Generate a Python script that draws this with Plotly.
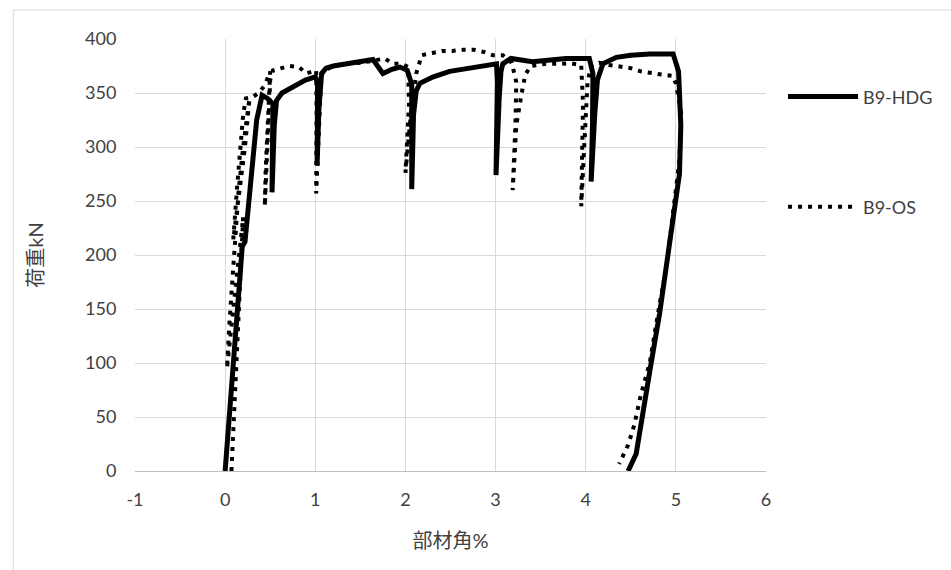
import plotly.graph_objects as go

# B9-HDG (solid)
hdg_x = [0, 0.05, 0.1, 0.15, 0.19, 0.22, 0.25, 0.3, 0.35, 0.41, 0.47, 0.53,
         0.52, 0.545, 0.57, 0.63, 0.7, 0.78, 0.89, 1.0, 1.025, 1.02, 1.04, 1.07,
         1.12, 1.2, 1.35, 1.5, 1.64, 1.75, 1.85, 1.94, 2.02, 2.07, 2.07, 2.09,
         2.12, 2.16, 2.31, 2.49, 2.65, 2.79, 3.01, 3.02, 3.005, 3.04, 3.06, 3.08,
         3.17, 3.41, 3.6, 3.78, 4.04, 4.08, 4.075, 4.06, 4.1, 4.13, 4.19, 4.34,
         4.5, 4.71, 4.97, 5.03, 5.055, 5.04, 4.98, 4.91, 4.82, 4.72, 4.63, 4.56, 4.47]
hdg_y = [0, 55, 112, 168, 208, 212, 240, 285, 325, 348, 345, 340,
         258, 320, 343, 350, 353, 357, 362, 365, 360, 283, 335, 368,
         373, 375, 377, 378, 381, 368, 372, 374, 371, 358, 261, 330,
         352, 359, 365, 370, 372, 374, 377, 360, 274, 345, 370, 377,
         382, 379, 380, 382, 382, 368, 320, 268, 330, 362, 377, 383,
         385, 386, 386, 370, 320, 275, 240, 195, 146, 97, 50, 16, 0]

# B9-OS (dotted)
os_x = [0.07, 0.1, 0.13, 0.16, 0.18, 0.2, 0.12, 0.05, 0.02,
        0.05, 0.08, 0.11, 0.15, 0.2, 0.24, 0.27, 0.22, 0.16, 0.12, 0.09,
        0.13, 0.17, 0.2, 0.23, 0.3, 0.37, 0.44, 0.5, 0.47, 0.45, 0.44,
        0.46, 0.48, 0.5, 0.53, 0.61, 0.71, 0.82, 0.9, 1.01, 1.015, 1.01,
        1.04, 1.06, 1.08, 1.15, 1.3, 1.5, 1.65, 1.77, 1.86, 1.96, 2.03,
        2.04, 2.0, 2.06, 2.12, 2.18, 2.3, 2.41, 2.52, 2.64, 2.76, 2.87, 2.97, 3.08,
        3.18, 3.23, 3.22, 3.19, 3.23, 3.29, 3.33, 3.39, 3.56, 3.71, 3.83, 3.95,
        3.97, 3.95, 3.99, 4.02, 4.06, 4.15, 4.26, 4.39, 4.5, 4.61, 4.74, 4.85,
        4.96, 5.0, 5.06, 5.04, 4.97, 4.89, 4.82, 4.71, 4.61, 4.54, 4.47, 4.37]
os_y = [0, 50, 100, 150, 200, 235, 170, 120, 95,
        140, 180, 220, 260, 300, 330, 345, 300, 260, 230, 214,
        260, 300, 330, 345, 346, 350, 357, 370, 320, 280, 245,
        290, 330, 362, 371, 373, 375, 374, 368, 371, 330, 257,
        320, 355, 370, 373, 377, 378, 380, 382, 377, 377, 374,
        340, 276, 330, 368, 385, 387, 389, 389, 390, 390, 388, 385, 385,
        378, 360, 320, 260, 320, 350, 367, 375, 377, 377, 377.5, 376,
        340, 245, 320, 360, 375, 378, 376, 374, 373, 370, 368, 367,
        366, 359, 331, 288, 240, 186, 155, 100, 70, 43, 24, 6.5]

x_ticks = [-1, 0, 1, 2, 3, 4, 5, 6]
x_tick_text = ["-1", "0", "1", "2", "3", "4", "5", "6"]
y_ticks = [0, 50, 100, 150, 200, 250, 300, 350, 400]

FONT = "Lato, 'Noto Sans CJK JP', sans-serif"

fig = go.Figure()
fig.add_trace(go.Scatter(x=hdg_x, y=hdg_y, mode="lines", name="B9-HDG",
                         line=dict(color="black", width=5), legend="legend",
                         showlegend=True))
fig.add_trace(go.Scatter(x=os_x, y=os_y, mode="lines", name="B9-OS",
                         line=dict(color="black", width=4, dash="4px,6px"),
                         legend="legend2", showlegend=True))

fig.update_layout(
    width=951, height=570,
    showlegend=True,
    margin=dict(l=135, r=185, t=39, b=99, autoexpand=False),
    paper_bgcolor="white", plot_bgcolor="white",
    font=dict(family=FONT, size=18, color="#404040"),
    xaxis=dict(range=[-1, 6], tickvals=x_ticks, ticktext=x_tick_text,
               showgrid=True, gridcolor="#d9d9d9",
               gridwidth=1, zeroline=True, zerolinecolor="#d9d9d9", zerolinewidth=1,
               showline=True, linecolor="#bfbfbf", linewidth=1,
               ticks="outside", ticklen=12, tickcolor="rgba(0,0,0,0)",
               title=dict(text="部材角%", font=dict(size=20, color="#404040"), standoff=25),
               fixedrange=True),
    yaxis=dict(range=[0, 400], tickvals=y_ticks, showgrid=True, gridcolor="#d9d9d9",
               gridwidth=1, zeroline=False, showline=False,
               ticks="outside", ticklen=14, tickcolor="rgba(0,0,0,0)",
               title=dict(text="荷重kN", font=dict(size=20, color="#404040"), standoff=36),
               fixedrange=True),
    legend=dict(x=1.027, y=0.866, xanchor="left", yanchor="middle",
                font=dict(size=18, color="#404040"), itemwidth=70, bgcolor="rgba(0,0,0,0)"),
    legend2=dict(x=1.027, y=0.611, xanchor="left", yanchor="middle",
                 font=dict(size=18, color="#404040"), itemwidth=70, bgcolor="rgba(0,0,0,0)"),
    shapes=[dict(type="rect", xref="paper", yref="paper", x0=-0.193, x1=1.5,
                 y0=-0.5, y1=1.067, line=dict(color="#d9d9d9", width=1),
                 fillcolor="rgba(0,0,0,0)", layer="below")],
)

fig.write_html("out.html")
